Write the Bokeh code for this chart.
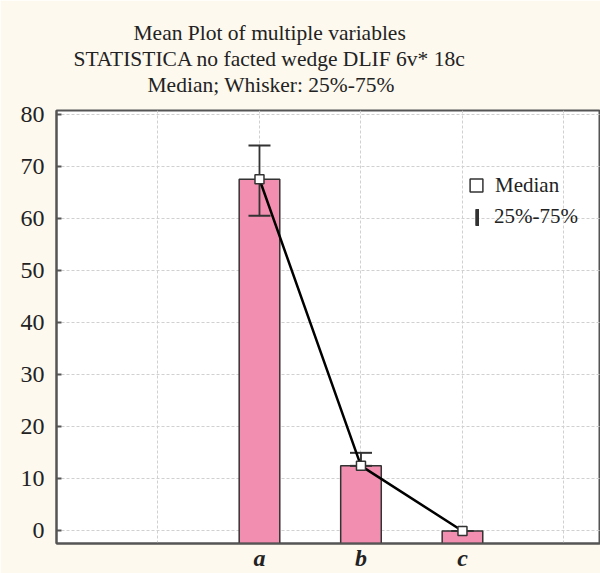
from bokeh.plotting import figure
from bokeh.models import (Range1d, FixedTicker, Grid, Legend, LegendItem,
                          Title, ColumnDataSource)
from bokeh.embed import file_html
from bokeh.resources import INLINE

# ---- data ----
categories = ["a", "b", "c"]
medians = [67.5, 12.5, 0.0]
q25 = [60.5, 12.5, 0.0]
q75 = [74.0, 15.0, 0.0]
y_ticks = [0, 10, 20, 30, 40, 50, 60, 70, 80]
grid_x = [0, 1, 2, 3, 4]
title_lines = ["Mean Plot of multiple variables",
               "STATISTICA no facted wedge DLIF 6v* 18c",
               "Median; Whisker: 25%-75%"]
legend_labels = ["Median", "25%-75%"]

FONT = "Liberation Serif"
TXT = "#222222"
AX = "#555555"

pos = [i + 1 for i in range(len(categories))]
x_lo, x_hi = -1.0, 4.36
y_lo, y_hi = -2.4, 80.7

src = ColumnDataSource(dict(x=pos, cat=categories, med=medians, lo=q25, hi=q75,
                            base=[y_lo - 10] * len(pos)))

p = figure(width=600, height=573, output_backend="svg", toolbar_location=None,
           x_range=Range1d(x_lo, x_hi), y_range=Range1d(y_lo, y_hi),
           min_border_left=56, min_border_right=0,
           min_border_bottom=0, min_border_top=110,
           background_fill_color="white", border_fill_color="#FDF9EE",
           outline_line_color=AX, outline_line_width=2)
p.title = None

# title: three centred lines (added from the frame outward)
p.add_layout(Title(text=" ", text_font_size="1px", standoff=11), "above")
title_offsets = [77, 17, 91]
title_standoffs = [0, 0, 0]
for i in (2, 1, 0):
    p.add_layout(Title(text=title_lines[i], align="left", offset=title_offsets[i],
                       standoff=title_standoffs[i], text_font=FONT,
                       text_font_size="21.5px", text_font_style="normal",
                       text_color=TXT), "above")

# x axis: category names
p.xaxis.ticker = FixedTicker(ticks=pos)
p.xaxis.major_label_overrides = {x: c for x, c in zip(pos, categories)}
p.xaxis.major_label_text_font = FONT
p.xaxis.major_label_text_font_size = "24px"
p.xaxis.major_label_text_font_style = "bold italic"
p.xaxis.major_label_text_color = TXT
p.xaxis.major_label_standoff = 1
p.xaxis.major_tick_in = 0
p.xaxis.major_tick_out = 0
p.xaxis.minor_tick_line_color = None
p.xaxis.axis_line_color = AX
p.xaxis.axis_line_width = 2

# y axis
p.yaxis.ticker = FixedTicker(ticks=y_ticks)
p.yaxis.axis_line_color = AX
p.yaxis.axis_line_width = 2
p.yaxis.major_tick_in = 5
p.yaxis.major_tick_out = 0
p.yaxis.major_tick_line_color = AX
p.yaxis.major_tick_line_width = 2
p.yaxis.minor_tick_line_color = None
p.yaxis.major_label_text_font = FONT
p.yaxis.major_label_text_font_size = "24px"
p.yaxis.major_label_text_color = TXT
p.yaxis.major_label_standoff = 12

# grids
p.ygrid.grid_line_color = "#d0d0d0"
p.ygrid.grid_line_dash = "3 2"
p.ygrid.grid_line_width = 1
p.xgrid.grid_line_color = None
p.add_layout(Grid(dimension=0, ticker=FixedTicker(ticks=grid_x),
                  grid_line_color="#d0d0d0", grid_line_dash="3 2", grid_line_width=1))

# bars
p.vbar(x="x", top="med", bottom="base", width=0.4, source=src,
       fill_color="#F28FB0", line_color="#333333", line_width=1.5)

# whiskers
stems = p.vbar(x="x", top="hi", bottom="lo", width=0.006, source=src,
               fill_color="#333333", line_color="#333333", line_width=1.2)
p.scatter(x="x", y="hi", marker="dash", size=22, line_width=2,
          line_color="#333333", source=src)
p.scatter(x="x", y="lo", marker="dash", size=22, line_width=2,
          line_color="#333333", source=src)

# median line and markers
p.line(x="x", y="med", line_color="black", line_width=2.5, source=src)
meds = p.scatter(x="x", y="med", marker="square", size=9, fill_color="white",
                 line_color="#333333", line_width=1.5, source=src)

# legends
leg1 = Legend(items=[LegendItem(label=legend_labels[0], renderers=[meds])],
              location=(404, 342), glyph_width=32, glyph_height=32,
              label_standoff=3, padding=0, margin=0, border_line_alpha=0,
              background_fill_alpha=0, label_text_font=FONT,
              label_text_font_size="21px", label_text_color=TXT)
leg2 = Legend(items=[LegendItem(label=legend_labels[1], renderers=[stems])],
              location=(419, 314), glyph_width=4, glyph_height=20, label_height=20,
              label_standoff=15, padding=0, margin=0, border_line_alpha=0,
              background_fill_alpha=0, label_text_font=FONT,
              label_text_font_size="21px", label_text_color=TXT)
p.add_layout(leg1)
p.add_layout(leg2)

open("out.html", "w").write(file_html(p, INLINE))
